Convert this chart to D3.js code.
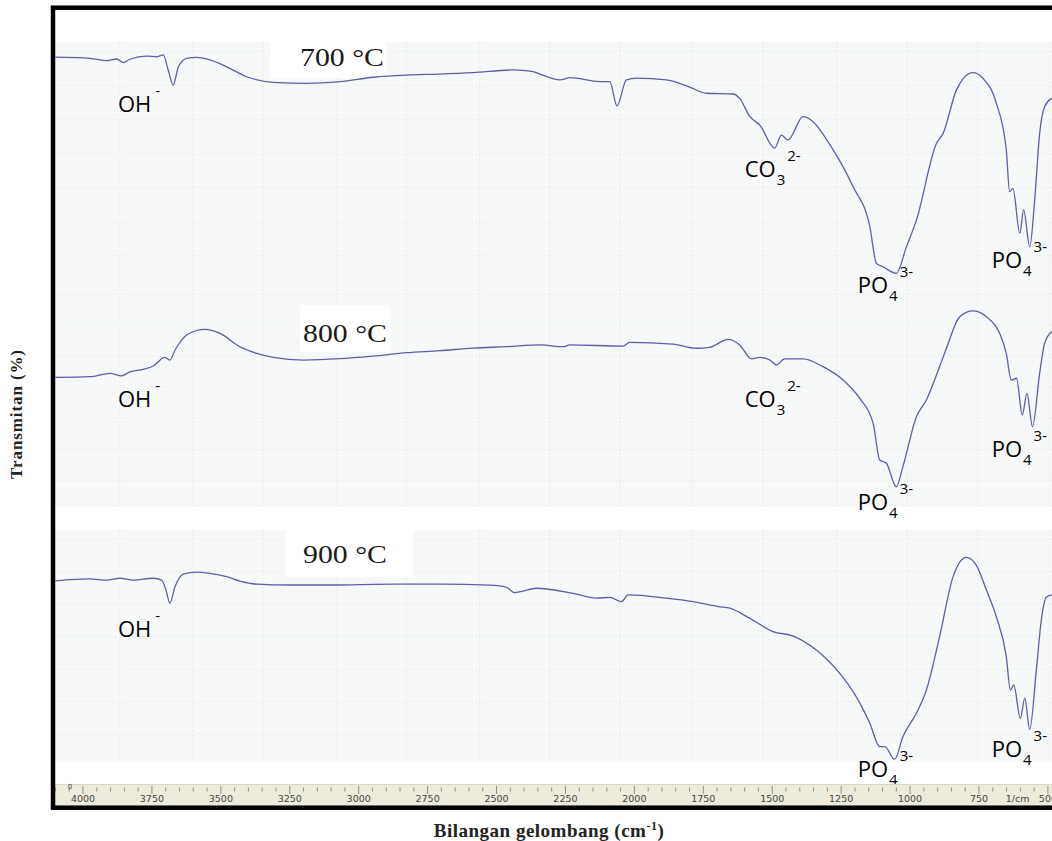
<!DOCTYPE html>
<html lang="en">
<head>
<meta charset="UTF-8">
<title>FTIR HAp</title>
<script src="https://cdn.jsdelivr.net/npm/d3@7"></script>
<style>
  body { margin: 0; background: #fff; }
  svg { display: block; }
</style>
</head>
<body>
<div id="chart"></div>
<script>
// --- data: wavenumber (cm-1) and relative transmittance (% of panel height)
const wn700 = [4100, 3975, 3914, 3878, 3854, 3830, 3769, 3733, 3709, 3691, 3673, 3654, 3624, 3588, 3540, 3479, 3406, 3310, 3189, 3068, 2947, 2826, 2706, 2585, 2440, 2367, 2343, 2270, 2234, 2125, 2089, 2063, 2029, 1992, 1884, 1799, 1739, 1642, 1618, 1581, 1545, 1491, 1467, 1443, 1388, 1279, 1207, 1146, 1122, 1098, 1050, 1013, 977, 904, 880, 832, 772, 736, 687, 651, 639, 627, 602, 588, 566, 548, 530, 512, 486]
const t700 = [93.8, 93.3, 92.3, 93.0, 91.5, 92.9, 94.2, 93.9, 94.7, 88.5, 82.3, 89.8, 93.3, 93.7, 92.6, 89.8, 85.7, 83.4, 83.0, 83.7, 85.5, 86.4, 86.8, 87.4, 88.5, 87.8, 86.8, 84.4, 85.3, 83.7, 83.7, 73.7, 84.4, 85.1, 84.4, 81.4, 78.9, 78.6, 76.8, 69.3, 65.8, 56.3, 61.7, 59.7, 69.3, 55.6, 40.5, 24.0, 8.9, 7.5, 4.8, 15.8, 26.7, 58.3, 62.4, 80.2, 87.4, 85.1, 74.8, 55.6, 38.4, 39.8, 21.3, 30.9, 15.8, 35.0, 62.4, 73.4, 76.8]

const wn800 = [4100, 3975, 3902, 3860, 3830, 3781, 3745, 3703, 3685, 3666, 3624, 3558, 3503, 3431, 3370, 3310, 3201, 3068, 2947, 2826, 2706, 2585, 2464, 2343, 2258, 2234, 2041, 2017, 1860, 1775, 1727, 1660, 1618, 1575, 1545, 1509, 1485, 1455, 1388, 1316, 1243, 1183, 1134, 1110, 1086, 1050, 1026, 977, 941, 893, 868, 820, 772, 723, 675, 651, 633, 614, 593, 576, 556, 530, 512, 486]
const t800 = [58.4, 58.7, 60.2, 59.1, 60.9, 62.0, 63.5, 67.4, 66.2, 70.7, 77.5, 80.0, 78.2, 72.2, 69.2, 67.4, 66.2, 66.8, 68.0, 69.5, 70.4, 71.6, 72.2, 73.0, 72.2, 73.0, 72.5, 74.2, 73.4, 71.5, 71.9, 75.5, 73.0, 66.7, 67.4, 66.2, 64.0, 66.7, 66.7, 63.2, 57.2, 49.0, 37.7, 21.2, 19.7, 9.1, 18.2, 40.7, 48.2, 63.2, 71.5, 85.7, 88.3, 85.7, 78.2, 69.2, 57.2, 58.0, 41.4, 51.2, 36.2, 60.2, 73.7, 79.0]

const wn900 = [4100, 3975, 3914, 3866, 3818, 3745, 3715, 3699, 3685, 3666, 3636, 3588, 3540, 3479, 3431, 3370, 3249, 3068, 2947, 2706, 2524, 2464, 2434, 2404, 2355, 2222, 2138, 2089, 2047, 2023, 1884, 1787, 1690, 1654, 1581, 1497, 1424, 1340, 1255, 1195, 1146, 1110, 1092, 1056, 1026, 971, 941, 893, 844, 796, 760, 723, 687, 651, 636, 624, 600, 584, 566, 542, 524, 506, 486]
const t900 = [78.1, 78.9, 78.4, 79.2, 78.4, 79.2, 78.4, 74.1, 68.4, 75.6, 81.0, 81.8, 81.3, 79.9, 78.0, 76.7, 76.3, 76.3, 76.6, 76.7, 76.2, 75.3, 73.0, 73.7, 74.9, 72.7, 70.6, 71.0, 69.1, 72.0, 70.6, 69.1, 66.9, 66.3, 61.9, 56.2, 54.3, 48.3, 38.2, 28.1, 16.7, 6.6, 6.6, 1.2, 10.9, 22.4, 31.0, 54.0, 79.9, 88.2, 84.9, 74.1, 62.6, 45.4, 31.0, 33.2, 18.8, 27.5, 14.1, 39.7, 61.2, 71.0, 72.0]

const temps = ['700 °C', '800 °C', '900 °C']

// band labels: [ion, subscript, superscript, wavenumber at label start, transmittance at baseline]
const bands700 = [['OH', '', '-', 3873, 71.2], ['CO', '3', '2-', 1600, 44.4], ['PO', '4', '3-', 1190, -3.3], ['PO', '4', '3-', 704, 7.0]]
const bands800 = [['OH', '', '-', 3873, 45.0], ['CO', '3', '2-', 1600, 45.0], ['PO', '4', '3-', 1190, -1.4], ['PO', '4', '3-', 704, 22.5]]
const bands900 = [['OH', '', '-', 3873, 53.9], ['PO', '4', '3-', 1190, -6.5], ['PO', '4', '3-', 704, 2.2]]

const rulerLabels = [4000, 3750, 3500, 3250, 3000, 2750, 2500, 2250, 2000, 1750, 1500, 1250, 1000, 750, 500]
// faint instrument grid (cm-1)
const gridWn = [3866, 3602, 3347, 3079, 2826, 2561, 2307, 2053, 1788, 1534, 1265, 1011, 754, 493]
const gridT = [12, 26, 40, 54, 68, 82, 96]

// --- layout
const width = 1052, height = 841
const plotLeft = 55, plotRight = 1052
const panels = [
  { top: 42, bottom: 285, wn: wn700, t: t700, bands: bands700, box: [270, 42, 117, 36], labelX: 300, labelY: 66 },
  { top: 285, bottom: 507, wn: wn800, t: t800, bands: bands800, box: [300, 305, 90, 47], labelX: 303, labelY: 342 },
  { top: 530, bottom: 762, wn: wn900, t: t900, bands: bands900, box: [285, 530, 128, 47], labelX: 303, labelY: 563 }
]

const svg = d3.select('#chart').append('svg')
  .attr('width', width)
  .attr('height', height)

const x = d3.scaleLinear().domain([4000, 750]).range([83, 979])

svg.append('clipPath').attr('id', 'clip')
  .append('rect')
  .attr('x', plotLeft).attr('y', 0)
  .attr('width', plotRight - plotLeft).attr('height', height)

panels.forEach((p, i) => {
  const y = d3.scaleLinear().domain([0, 100]).range([p.bottom, p.top])
  const g = svg.append('g').attr('clip-path', 'url(#clip)')

  g.append('rect')
    .attr('x', plotLeft).attr('y', p.top)
    .attr('width', plotRight - plotLeft).attr('height', p.bottom - p.top)
    .attr('fill', '#f7f8f8')

  // faint grid
  g.selectAll('.vgrid').data(gridWn).join('line')
    .attr('x1', d => x(d)).attr('x2', d => x(d))
    .attr('y1', p.top).attr('y2', p.bottom)
    .attr('stroke', '#e8eaea').attr('stroke-dasharray', '2,2')
  g.selectAll('.hgrid').data(gridT).join('line')
    .attr('x1', plotLeft).attr('x2', plotRight)
    .attr('y1', d => y(d)).attr('y2', d => y(d))
    .attr('stroke', '#eaecec').attr('stroke-dasharray', '2,2')

  // label box
  g.append('rect')
    .attr('x', p.box[0]).attr('y', p.box[1])
    .attr('width', p.box[2]).attr('height', p.box[3])
    .attr('fill', '#fff')
  g.append('text')
    .attr('x', p.labelX).attr('y', p.labelY)
    .attr('font-family', 'Liberation Serif, serif')
    .attr('font-size', 25)
    .attr('textLength', 84)
    .attr('lengthAdjust', 'spacingAndGlyphs')
    .attr('fill', '#1c1a18')
    .text(temps[i])

  const pts = p.wn.map((w, k) => [w, p.t[k]])
  const line = d3.line()
    .x(d => x(d[0]))
    .y(d => y(d[1]))
    .curve(d3.curveMonotoneX)

  g.append('path')
    .datum(pts)
    .attr('d', line)
    .attr('fill', 'none')
    .attr('stroke', '#5d5dab')
    .attr('stroke-width', 1.3)

  p.y = y
})

// band labels on top of everything
panels.forEach(p => {
  p.bands.forEach(b => {
    const bx = x(b[3]), by = p.y(b[4])
    const base = svg.append('text')
      .attr('x', bx).attr('y', by)
      .attr('font-family', 'Open Sans, sans-serif')
      .attr('font-size', 22)
      .attr('fill', '#000')
      .text(b[0])
    let right = bx + base.node().getComputedTextLength() + 1
    if (b[1]) {
      const sub = svg.append('text')
        .attr('x', right).attr('y', by + 8)
        .attr('font-family', 'Open Sans, sans-serif')
        .attr('font-size', 15)
        .text(b[1])
      right += sub.node().getComputedTextLength() + 2
    } else {
      right += 3
    }
    svg.append('text')
      .attr('x', right).attr('y', by - 16)
      .attr('font-family', 'Open Sans, sans-serif')
      .attr('font-size', 15)
      .text(b[2])
  })
})

// ruler axis at the bottom
const ruler = svg.append('g').attr('clip-path', 'url(#clip)')
ruler.append('rect')
  .attr('x', plotLeft).attr('y', 784)
  .attr('width', plotRight - plotLeft).attr('height', 22)
  .attr('fill', '#ecebdc')
ruler.append('line')
  .attr('x1', plotLeft).attr('x2', plotRight)
  .attr('y1', 784.5).attr('y2', 784.5)
  .attr('stroke', '#d8d6c6')

const minor = d3.range(4100, 449, -50)
ruler.selectAll('.tk').data(minor).join('line')
  .attr('x1', d => x(d)).attr('x2', d => x(d))
  .attr('y1', d => d % 250 === 0 ? 786 : 787.5)
  .attr('y2', d => d % 250 === 0 ? 794 : 791.5)
  .attr('stroke', '#777')
  .attr('stroke-width', 0.8)

ruler.selectAll('.lbl').data(rulerLabels).join('text')
  .attr('x', d => x(d)).attr('y', 802)
  .attr('text-anchor', 'middle')
  .attr('font-family', 'DejaVu Sans, sans-serif')
  .attr('font-size', 9.5)
  .attr('fill', '#444')
  .text(d => d)
ruler.append('text')
  .attr('x', x(610)).attr('y', 802)
  .attr('text-anchor', 'middle')
  .attr('font-family', 'DejaVu Sans, sans-serif')
  .attr('font-size', 9.5)
  .attr('fill', '#444')
  .text('1/cm')
ruler.append('text')
  .attr('x', 70).attr('y', 789)
  .attr('text-anchor', 'middle')
  .attr('font-family', 'DejaVu Sans, sans-serif')
  .attr('font-size', 7)
  .attr('fill', '#444')
  .text('0')

// frame
svg.append('rect')
  .attr('x', 53).attr('y', 7.7)
  .attr('width', 1020).attr('height', 800)
  .attr('fill', 'none')
  .attr('stroke', '#000')
  .attr('stroke-width', 4.5)

// axis titles
svg.append('text')
  .attr('transform', 'translate(22,414) rotate(-90)')
  .attr('text-anchor', 'middle')
  .attr('font-family', 'Liberation Serif, serif')
  .attr('font-weight', 'bold')
  .attr('font-size', 17)
  .attr('letter-spacing', 0.9)
  .attr('fill', '#222')
  .text('Transmitan (%)')

const xt = svg.append('text')
  .attr('x', 549).attr('y', 837)
  .attr('text-anchor', 'middle')
  .attr('font-family', 'Liberation Serif, serif')
  .attr('font-weight', 'bold')
  .attr('font-size', 19)
  .attr('letter-spacing', 0.5)
  .attr('fill', '#222')
xt.append('tspan').text('Bilangan gelombang (cm')
xt.append('tspan').attr('dy', -7).attr('font-size', 12).text('-1')
xt.append('tspan').attr('dy', 7).text(')')
</script>
</body>
</html>
